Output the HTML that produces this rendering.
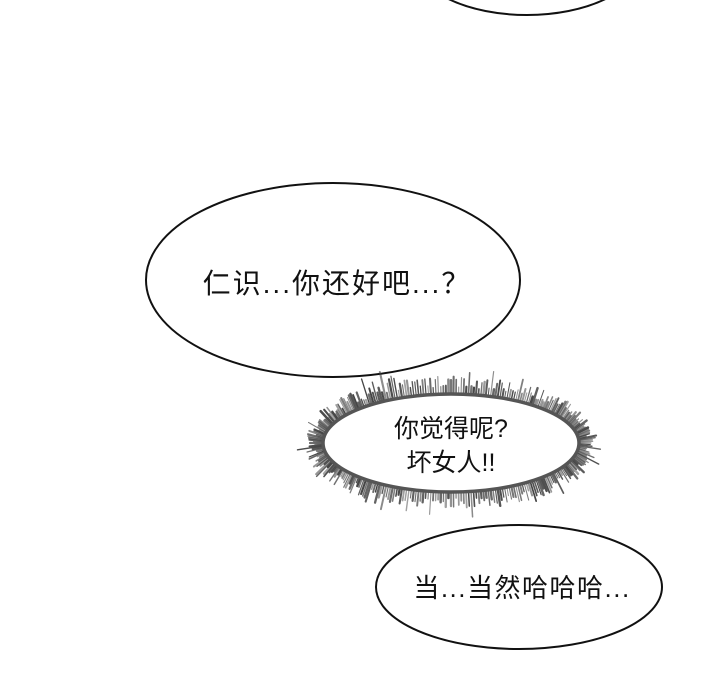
<!DOCTYPE html>
<html><head><meta charset="utf-8">
<style>
html,body{margin:0;padding:0;background:#fff;}
svg{display:block;}
text{font-family:"Liberation Sans","Noto Sans CJK SC",sans-serif;fill:#111;}
</style></head>
<body>
<svg id="s" width="720" height="700" viewBox="0 0 720 700" xmlns="http://www.w3.org/2000/svg">
<ellipse cx="527" cy="-42" rx="113" ry="57" fill="#fff" stroke="#111" stroke-width="2"/>
<ellipse cx="333" cy="280" rx="187" ry="97" fill="#fff" stroke="#111" stroke-width="2"/>
<text x="337" y="293" font-size="28" letter-spacing="2" text-anchor="middle">仁识...你还好吧...？</text>
<g id="spikes" stroke="#444" stroke-linecap="round"></g>
<ellipse cx="451" cy="443" rx="128" ry="49" fill="#fff" stroke="#555" stroke-width="3.5"/>
<text x="451" y="437" font-size="25" text-anchor="middle">你觉得呢?</text>
<text x="451" y="471" font-size="25" text-anchor="middle">坏女人!!</text>
<ellipse cx="519" cy="587" rx="143" ry="62" fill="#fff" stroke="#111" stroke-width="2"/>
<text x="522" y="597" font-size="26" letter-spacing="1.5" text-anchor="middle">当...当然哈哈哈...</text>
</svg>
<script>
var g=document.getElementById('spikes'),ns='http://www.w3.org/2000/svg',seed=7;
function r(){seed=(seed*9301+49297)%233280;return seed/233280;}
for(var i=0;i<320;i++){
 var t=i/320*Math.PI*2;
 var cx=451,cy=443,a=128,b=49;
 var x0=cx+a*Math.cos(t),y0=cy+b*Math.sin(t);
 var nx=Math.cos(t)/a,ny=Math.sin(t)/b,n=Math.hypot(nx,ny);nx/=n;ny/=n;
 var L=6+r()*12+(r()<0.1?r()*16:0);
 var l=document.createElementNS(ns,'line');
 l.setAttribute('x1',x0);l.setAttribute('y1',y0);
 l.setAttribute('x2',x0+nx*L);l.setAttribute('y2',y0+ny*L);
 l.setAttribute('stroke-width',1+r()*1.5);
 l.setAttribute('stroke-opacity',0.5+r()*0.5);
 g.appendChild(l);
}
</script>
</body></html>
